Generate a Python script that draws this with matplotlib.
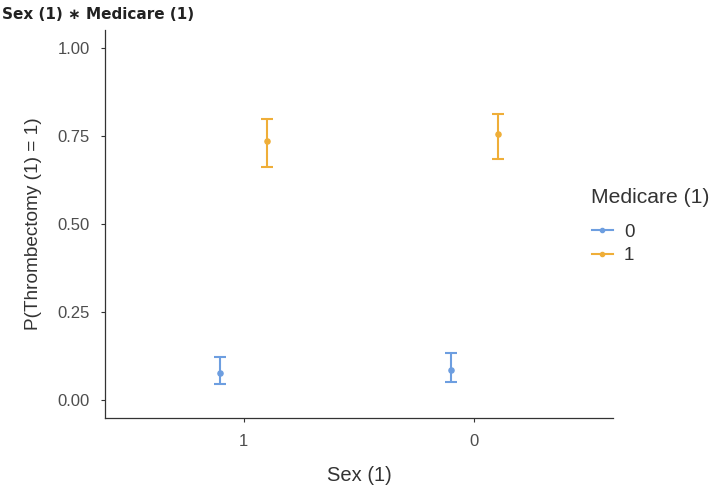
import matplotlib.pyplot as plt
from matplotlib.lines import Line2D

plt.rcParams["font.family"] = ["Liberation Sans", "DejaVu Sans"]

# data
sex_levels = ["1", "0"]
medicare_levels = ["0", "1"]
prob = {"0": [0.078, 0.085], "1": [0.737, 0.756]}
lower = {"0": [0.046, 0.052], "1": [0.663, 0.685]}
upper = {"0": [0.123, 0.133], "1": [0.799, 0.813]}
colors = {"0": "#6d9ee0", "1": "#efae38"}
dodge = {"0": -0.1, "1": 0.1}


def main():
    fig = plt.figure(figsize=(7.17, 4.87), dpi=100)
    ax = fig.add_axes([0.1464, 0.1425, 0.7085, 0.7951])

    xpos = list(range(1, len(sex_levels) + 1))
    for m in medicare_levels:
        xs = [x + dodge[m] for x in xpos]
        ys = prob[m]
        err_lo = [y - lo for y, lo in zip(ys, lower[m])]
        err_hi = [hi - y for y, hi in zip(ys, upper[m])]
        ax.errorbar(xs, ys, yerr=[err_lo, err_hi], fmt="o", color=colors[m],
                    markersize=3.7, elinewidth=1.5, capsize=4.2, capthick=1.5)

    ax.set_xlim(0.4, 2.6)
    ax.set_ylim(-0.05, 1.05)
    ax.set_xticks(xpos)
    ax.set_xticklabels(sex_levels)
    ax.set_yticks([0, 0.25, 0.5, 0.75, 1.0])
    ax.set_yticklabels(["0.00", "0.25", "0.50", "0.75", "1.00"])
    ax.tick_params(colors="#333333", labelcolor="#4d4d4d", labelsize=12, length=3, width=0.8)
    ax.tick_params(axis="x", pad=9)
    ax.tick_params(axis="y", pad=8)

    for s in ["top", "right"]:
        ax.spines[s].set_visible(False)
    for s in ["left", "bottom"]:
        ax.spines[s].set_color("#333333")
        ax.spines[s].set_linewidth(0.9)

    ax.set_xlabel("Sex (1)", fontsize=14.5, color="#333333", labelpad=12)
    ax.set_ylabel("P(Thrombectomy (1) = 1)", fontsize=13.7, color="#333333", labelpad=11)

    fig.text(0.003, 0.971, "Sex (1) \u2217 Medicare (1)", fontsize=11, fontweight="bold",
             family="DejaVu Sans", color="#222222", va="center", ha="left")

    # legend title drawn separately to match the ggplot spacing
    fig.text(0.8243, 0.583, "Medicare (1)", fontsize=15.2, color="#333333",
             ha="left", va="baseline")
    handles = [Line2D([0], [0], color=colors[m], marker="o", markersize=3, linewidth=1.5)
               for m in medicare_levels]
    leg = fig.legend(handles, medicare_levels, loc="upper left",
                     bbox_to_anchor=(0.8257, 0.541), frameon=False, fontsize=13.5,
                     handlelength=1.1, handletextpad=0.6, labelspacing=0.35,
                     borderpad=0, borderaxespad=0)
    for t in leg.get_texts():
        t.set_color("#333333")

    fig.savefig("out.png", dpi=100)


if __name__ == "__main__":
    main()
